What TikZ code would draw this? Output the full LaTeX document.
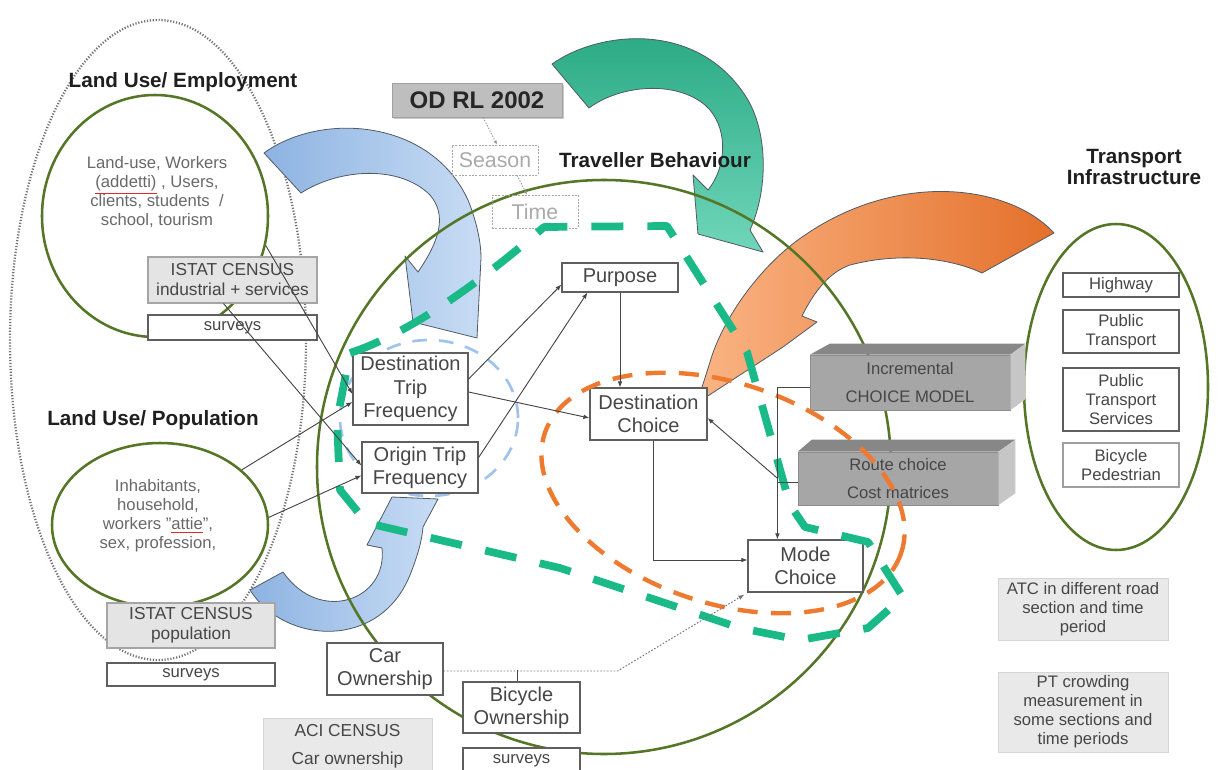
\documentclass[tikz,border=0pt]{standalone}
\usepackage{fontspec}
\setmainfont{Liberation Sans}
\usetikzlibrary{arrows.meta,shapes.geometric,calc,shadows}

\definecolor{ringgreen}{RGB}{84,118,38}
\definecolor{boxline}{RGB}{95,95,95}
\definecolor{boxtext}{RGB}{70,70,70}
\definecolor{softtext}{RGB}{105,105,105}
\definecolor{censusfill}{RGB}{228,228,228}
\definecolor{censusline}{RGB}{165,165,165}
\definecolor{odfill}{RGB}{190,190,190}
\definecolor{bluedark}{RGB}{141,179,226}
\definecolor{bluelight}{RGB}{200,220,244}
\definecolor{tealdark}{RGB}{38,168,128}
\definecolor{teallight}{RGB}{112,214,186}
\definecolor{orangedark}{RGB}{228,112,42}
\definecolor{orangelight}{RGB}{250,180,132}
\definecolor{arrowedge}{RGB}{80,90,100}
\definecolor{tealdash}{RGB}{26,186,136}
\definecolor{orangedash}{RGB}{238,122,48}
\definecolor{bluedash}{RGB}{160,195,235}
\definecolor{linegray}{RGB}{70,70,70}
\definecolor{modelfront}{RGB}{166,166,166}
\definecolor{modeltop}{RGB}{135,135,135}
\definecolor{modelside}{RGB}{198,198,198}
\definecolor{notefill}{RGB}{233,233,233}
\definecolor{noteline}{RGB}{214,214,214}
\definecolor{faint}{RGB}{170,170,170}
\definecolor{spellred}{RGB}{225,40,40}

\newcommand{\redul}[1]{{\color{spellred}$\underline{\hbox{\color{softtext}#1}}$}}

\tikzset{
  sz/.style 2 args={minimum width=#1*0.75pt, minimum height=#2*0.75pt},
  ring/.style={ellipse, draw=ringgreen, line width=1.9pt, inner sep=0pt},
  stagebox/.style={rectangle, draw=boxline, fill=white, line width=0.9pt, text=boxtext,
    align=center, inner sep=0pt, font=\fontsize{15}{17.5}\selectfont},
  smallbox/.style={rectangle, draw=boxline, fill=white, line width=0.8pt, text=boxtext,
    align=center, inner sep=0pt, font=\fontsize{12.5}{14}\selectfont},
  census/.style={smallbox, fill=censusfill, draw=censusline, font=\fontsize{13}{15}\selectfont},
  note/.style={rectangle, fill=notefill, draw=noteline, line width=0.6pt, text=boxtext,
    align=center, inner sep=0pt, font=\fontsize{12.5}{14.3}\selectfont},
  model/.style={rectangle, fill=modelfront, draw=modelfront!85!black, line width=0.4pt,
    text=boxtext, align=center, inner sep=0pt, font=\fontsize{12.5}{21}\selectfont},
  heading/.style={font=\fontsize{15.5}{16}\selectfont\bfseries, text=black!88, align=center, inner sep=0pt},
  ringtext/.style={font=\fontsize{12.5}{14.25}\selectfont, text=softtext, align=center, inner sep=0pt},
  conn/.style={draw=linegray, line width=0.7pt},
  endtip/.style={-{Latex[length=4.5pt,width=3.5pt]}},
  faintlink/.style={draw=black!45, line width=0.6pt, dash pattern=on 1pt off 1.2pt, -{Latex[length=3pt,width=2.5pt]}},
  fatarrow/.style={draw=arrowedge, line width=0.6pt, line join=round},
  dashedbox/.style={rectangle, draw=black!35, dash pattern=on 1.5pt off 1pt, line width=0.5pt,
    font=\fontsize{16}{18}\selectfont, text=faint, inner sep=0pt},
}

\begin{document}
\begin{tikzpicture}[x=0.75pt,y=-0.75pt]
\useasboundingbox (0,0) rectangle (1218,770);
\fill[white] (0,0) rectangle (1218,770);

% dotted envelope round the land-use side
\node[ellipse, draw=black!55, line width=1.7pt, dash pattern=on 0.9pt off 1.3pt, sz={296}{640}, inner sep=0pt] (landuse) at (158,340) {};

% curved block arrows
\path[fatarrow, left color=bluedark, right color=bluelight]
  (264,153) .. controls (320,112) and (430,118) .. (468,200)
  .. controls (478,225) and (481,245) .. (481,258) -- (477,338) -- (413,322) -- (405,256) -- (418,272)
  .. controls (440,240) and (447,215) .. (430,195) .. controls (400,165) and (340,168) .. (301,193) -- cycle;
\path[fatarrow, left color=bluedark, right color=bluelight]
  (250,590) .. controls (285,645) and (380,650) .. (410,575)
  .. controls (418,555) and (422,540) .. (423,527) -- (438,499) -- (392,497) -- (367,545) -- (382,548)
  .. controls (388,600) and (320,625) .. (283,572) -- cycle;
\path[fatarrow, top color=tealdark, bottom color=teallight]
  (552,64) .. controls (600,30) and (700,20) .. (748,100)
  .. controls (768,135) and (768,190) .. (750,230) -- (763,252) -- (698,234) -- (693,175) -- (708,190)
  .. controls (728,165) and (728,125) .. (705,105) .. controls (675,80) and (620,85) .. (589,108) -- cycle;
\path[fatarrow, left color=orangelight, right color=orangedark]
  (1054,233) .. controls (1010,185) and (900,170) .. (805,235)
  .. controls (760,265) and (722,320) .. (710,362) -- (697,403) -- (783,347) -- (817,322) -- (802,316)
  .. controls (815,290) and (830,272) .. (850,265) .. controls (900,252) and (950,258) .. (982,273) -- cycle;

% domains
\node[ring, sz={226}{242}] (emp) at (155,216) {};
\node[ring, sz={216}{164}] (pop) at (160,525) {};
\node[ring, sz={574}{574}] (tb) at (604,467) {};
\node[ring, sz={184}{326}] (ti) at (1116,387) {};
\node[ellipse, draw=bluedash, line width=2pt, dash pattern=on 11pt off 9pt, sz={178}{156}, inner sep=0pt] (freq) at (429,418) {};

% headings
\node[heading] (hemp) at (183,82) {Land Use/ Employment};
\node[heading] (hpop) at (153,420) {Land Use/ Population};
\node[heading] (htb) at (655,160) {Traveller Behaviour};
\node[heading] (hti) at (1134,167) {Transport\\Infrastructure};

% land-use contents
\node[ringtext] (emptext) at (157,192) {Land-use, Workers\\\redul{(addetti)} , Users,\\clients, students~ /\\school, tourism};
\node[ringtext] (poptext) at (158,516) {Inhabitants,\\household,\\workers "\redul{attie}",\\sex, profession,};

\node[census, sz={169}{46}] (istatA) at (232.5,280) {ISTAT CENSUS\\industrial + services};
\node[smallbox, sz={169}{25}] (survA) at (232.5,327.5) {surveys};
\node[census, sz={168}{45}] (istatB) at (191,625.5) {ISTAT CENSUS\\population};
\node[smallbox, sz={168}{23}] (survB) at (191,674.5) {surveys};

% survey source
\node[rectangle, fill=odfill, draw=odfill!85!black, line width=0.5pt,
  drop shadow={shadow xshift=1.5pt, shadow yshift=-1.5pt, fill=black!35, opacity=0.6},
  sz={170}{34}, font=\fontsize{18}{20}\selectfont\bfseries, text=black!85, inner sep=0pt] (odrl) at (477,100) {OD RL 2002};
\node[dashedbox, sz={86}{30}] (season) at (495,160) {Season};
\node[dashedbox, sz={86}{33}] (time) at (535,211.5) {Time};

% model stages
\node[stagebox, sz={115}{72}] (dtf) at (410.5,389) {Destination\\Trip\\Frequency};
\node[stagebox, sz={116}{51}] (otf) at (420,467.5) {Origin Trip\\Frequency};
\node[stagebox, sz={116}{29}] (purpose) at (620,277.5) {Purpose};
\node[stagebox, sz={117}{52}] (dc) at (648.5,414) {Destination\\Choice};
\node[stagebox, sz={115}{52}] (mode) at (805.5,566) {Mode\\Choice};
\node[stagebox, sz={116}{52}] (car) at (385,669) {Car\\Ownership};
\node[stagebox, sz={117}{51}] (bike) at (521.5,707.5) {Bicycle\\Ownership};
\node[smallbox, sz={117}{26}] (survC) at (521.5,761) {surveys};
\node[note, sz={169}{57}, font=\fontsize{13}{21}\selectfont] (aci) at (347.5,746.5) {ACI CENSUS\\Car ownership};

% infrastructure layers
\node[smallbox, sz={116}{24}] (hw) at (1121,285) {Highway};
\node[smallbox, sz={116}{43}] (pt) at (1121,331.5) {Public\\Transport};
\node[smallbox, sz={116}{63}] (pts) at (1121,399.5) {Public\\Transport\\Services};
\node[smallbox, sz={116}{44}, draw=boxline!60] (bp) at (1121,465) {Bicycle\\Pedestrian};

% counts
\node[note, sz={170}{62}] (atc) at (1083,609) {ATC in different road\\section and time\\period};
\node[note, sz={170}{80}] (ptc) at (1083,712) {PT crowding\\measurement in\\some sections and\\time periods};

% 3D model blocks
\node[model, sz={200}{55}] (cm) at (910,382.5) {Incremental\\CHOICE MODEL};
\fill[modeltop] (cm.north west) -- ++(20,-11) -- ($(cm.north east)+(15,-11)$) -- (cm.north east) -- cycle;
\fill[modelside] (cm.north east) -- ++(15,-11) -- ($(cm.south east)+(15,-11)$) -- (cm.south east) -- cycle;
\node[model, sz={200}{53}] (rc) at (898,478.5) {Route choice\\Cost matrices};
\fill[modeltop] (rc.north west) -- ++(14,-12) -- ($(rc.north east)+(17,-12)$) -- (rc.north east) -- cycle;
\fill[modelside] (rc.north east) -- ++(17,-12) -- ($(rc.south east)+(17,-12)$) -- (rc.south east) -- cycle;

% scope outlines
\draw[orangedash, line width=3.3pt, dash pattern=on 15pt off 10pt, rotate around={-18.6:(723,493)}]
  (723,493) ellipse [x radius=188, y radius=110];
\draw[tealdash, line width=5.8pt, dash pattern=on 24pt off 18pt, line join=round]
  (350,353) .. controls (420,330) and (500,265) .. (544,227) -- (667,226) -- (747,352) -- (790,505)
  -- (805,527) -- (868,542) -- (903,597) -- (868,628) -- (800,640) -- (740,628) -- (560,568)
  -- (367,523) -- (340,490) -- (337,420) -- cycle;

% links
\draw[faintlink] ($(odrl.south)+(6,0)$) -- ($(season.north)+(2,0)$);
\draw[faintlink] ($(season.south)+(22,0)$) -- ($(time.north)+(-8,0)$);

\draw[conn, endtip] (emp.-15) -- ($(dtf.west)+(0,5)$);
\draw[conn, endtip] ($(istatA.south west)+(76,0)$) -- ($(otf.west)+(0,-2)$);
\draw[conn, endtip] (pop.34) -- ($(dtf.west)+(0,13)$);
\draw[conn, endtip] (pop.4) -- ($(otf.west)+(0,8)$);
\draw[conn, endtip] ($(dtf.east)+(0,-10)$) -- ($(purpose.south west)+(0,-8)$);
\draw[conn, endtip] ($(otf.east)+(0,-10)$) -- ($(purpose.south west)+(26,0)$);
\draw[conn, endtip] ($(dtf.east)+(0,3)$) -- ($(dc.west)+(0,4)$);
\draw[conn, endtip] (purpose.south) -- (purpose.south |- dc.north);
\draw[conn, endtip] ($(dc.south)+(4.5,0)$) |- ($(mode.west)+(0,-6)$);
\draw[conn, endtip] ($(cm.west)+(0,4.5)$) -| ($(mode.north west)+(30,0)$);
\coordinate (fork) at ($(rc.west)+(-20,0)$);
\draw[conn] ($(rc.west)+(0,3.5)$) -- ($(fork)+(0,3.5)$);
\draw[conn, endtip] (fork) -- ($(dc.east)+(0,4)$);
\coordinate (ownbend) at ($(car.east)+(174,2)$);
\draw[conn, draw=black!55, dash pattern=on 1.2pt off 1.3pt, endtip] ($(car.east)+(0,2)$) -- (ownbend) -- ($(mode.south west)+(-3,2)$);
\draw[conn] ($(bike.north)+(-4,0)$) -- ($(bike.north)+(-4,-11)$);
\end{tikzpicture}
\end{document}
